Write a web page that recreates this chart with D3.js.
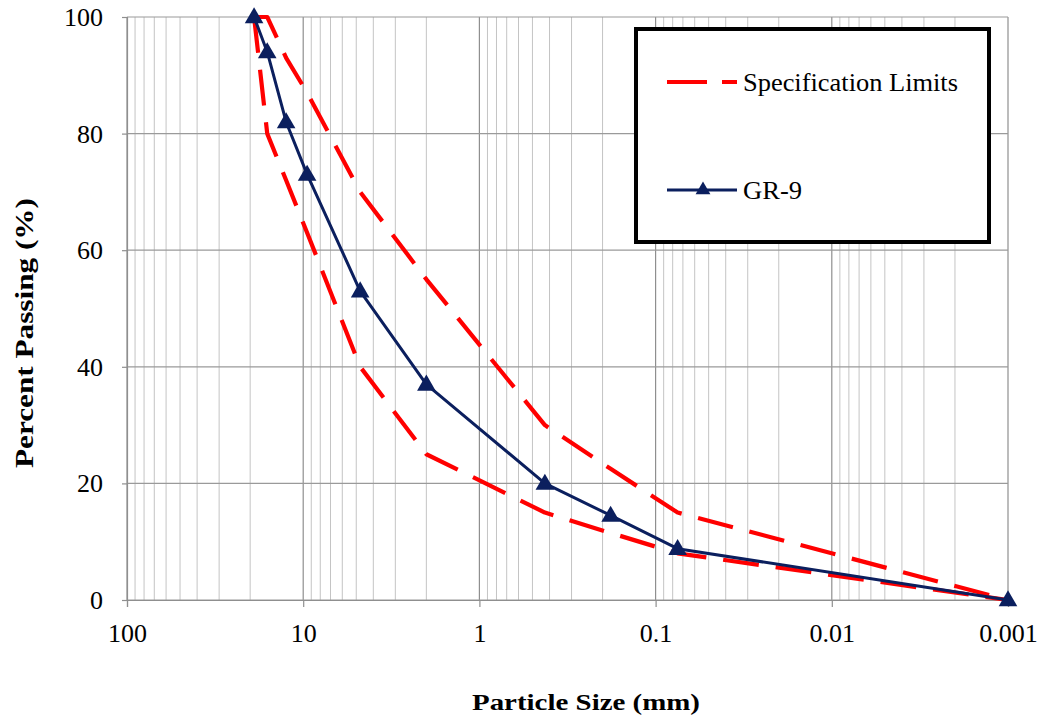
<!DOCTYPE html>
<html>
<head>
<meta charset="utf-8">
<script src="https://d3js.org/d3.v7.min.js"></script>
<style>
  html, body { margin: 0; padding: 0; background: #fff; }
  svg { display: block; }
  text { font-family: "Liberation Serif", "Times New Roman", serif; fill: #000; }
</style>
</head>
<body>
<svg id="chart" width="1041" height="719"></svg>
<script>
// ---- data ----
const sizes      = [19, 16, 12.5, 9.5, 4.75, 2, 0.425, 0.18, 0.075, 0.001];
const gr9        = [100, 94, 82, 73, 53, 37, 20, 14.5, 8.8, 0];
const specUpper  = [100, 100, 93, 87, 70, 55, 30, 22.5, 15, 0];
const specLower  = [100, 80, 72, 63, 40, 25, 15, 11.5, 8, 0];
const xTickLabels = ["100", "10", "1", "0.1", "0.01", "0.001"];
const xTickValues = [100, 10, 1, 0.1, 0.01, 0.001];
const yTickValues = [0, 20, 40, 60, 80, 100];
const legendLabels = ["Specification Limits", "GR-9"];

// ---- layout ----
const svg = d3.select("#chart");
const pLeft = 127, pRight = 1008, pTop = 17, pBottom = 600;

const x = d3.scaleLog().domain([100, 0.001]).range([pLeft, pRight]);
const y = d3.scaleLinear().domain([0, 100]).range([pBottom, pTop]);

const navy = "#0b1f5e";
const red = "#ff0000";

// minor gridlines
const minorVals = [];
for (let k = -3; k <= 1; k++) {
  for (let m = 2; m <= 9; m++) minorVals.push(m * Math.pow(10, k));
}
const grid = svg.append("g");
grid.selectAll("line.minor").data(minorVals).enter().append("line")
  .attr("x1", d => x(d)).attr("x2", d => x(d))
  .attr("y1", pTop).attr("y2", pBottom)
  .attr("stroke", "#c4c4c4").attr("stroke-width", 1);
grid.selectAll("line.major").data(xTickValues).enter().append("line")
  .attr("x1", d => x(d)).attr("x2", d => x(d))
  .attr("y1", pTop).attr("y2", pBottom)
  .attr("stroke", "#8f8f8f").attr("stroke-width", 1.2);
grid.selectAll("line.h").data(yTickValues).enter().append("line")
  .attr("x1", pLeft).attr("x2", pRight)
  .attr("y1", d => y(d)).attr("y2", d => y(d))
  .attr("stroke", "#9a9a9a").attr("stroke-width", 1.2);

// axes
const xAxis = d3.axisBottom(x).tickValues(xTickValues)
  .tickFormat((d, i) => xTickLabels[i]).tickSize(7).tickPadding(16);
const gx = svg.append("g").attr("transform", `translate(0,${pBottom})`).call(xAxis);
gx.select(".domain").attr("stroke", "#8f8f8f").attr("stroke-width", 1.2);
gx.selectAll(".tick line").attr("stroke", "#8f8f8f").attr("stroke-width", 1.2);
gx.selectAll(".tick text").attr("font-size", 26).attr("dy", "0.72em")
  .style("font-family", "'Liberation Serif', serif").attr("fill", "#000");

const yAxis = d3.axisLeft(y).tickValues(yTickValues).tickSize(5).tickPadding(19);
const gy = svg.append("g").attr("transform", `translate(${pLeft},0)`).call(yAxis);
gy.select(".domain").attr("stroke", "#8f8f8f").attr("stroke-width", 1.2);
gy.selectAll(".tick line").attr("stroke", "#8f8f8f").attr("stroke-width", 1.2);
gy.selectAll(".tick text").attr("font-size", 26).attr("dy", "0.33em")
  .style("font-family", "'Liberation Serif', serif").attr("fill", "#000");

// series
const line = d3.line().x(d => x(d[0])).y(d => y(d[1]));
const upperPts = sizes.map((s, i) => [s, specUpper[i]]);
const lowerPts = sizes.map((s, i) => [s, specLower[i]]);
const grPts = sizes.map((s, i) => [s, gr9[i]]);

[lowerPts, upperPts].forEach(pts => {
  svg.append("path").attr("d", line(pts))
    .attr("fill", "none").attr("stroke", red).attr("stroke-width", 4.2)
    .attr("stroke-dasharray", "36,17").attr("stroke-linejoin", "round");
});

svg.append("path").attr("d", line(grPts))
  .attr("fill", "none").attr("stroke", navy).attr("stroke-width", 3)
  .attr("stroke-linejoin", "round");

const tri = d3.symbol().type(d3.symbolTriangle).size(150);
svg.selectAll("path.marker").data(grPts).enter().append("path")
  .attr("transform", d => `translate(${x(d[0])},${y(d[1]) + 1})`)
  .attr("d", tri).attr("fill", navy);

// legend
const lg = svg.append("g");
lg.append("rect").attr("x", 636).attr("y", 29).attr("width", 353).attr("height", 213)
  .attr("fill", "#fff").attr("stroke", "#000").attr("stroke-width", 4);
lg.append("line").attr("x1", 667).attr("x2", 737).attr("y1", 82).attr("y2", 82)
  .attr("stroke", red).attr("stroke-width", 4.2).attr("stroke-dasharray", "40,15");
lg.append("text").attr("x", 743).attr("y", 91).attr("font-size", 26)
  .attr("textLength", 215).attr("lengthAdjust", "spacingAndGlyphs").text(legendLabels[0]);
lg.append("line").attr("x1", 667).attr("x2", 737).attr("y1", 190).attr("y2", 190)
  .attr("stroke", navy).attr("stroke-width", 3);
lg.append("path").attr("transform", "translate(703,190)")
  .attr("d", d3.symbol().type(d3.symbolTriangle).size(95)).attr("fill", navy);
lg.append("text").attr("x", 743).attr("y", 199).attr("font-size", 26)
  .attr("textLength", 59).attr("lengthAdjust", "spacingAndGlyphs").text(legendLabels[1]);

// axis titles
svg.append("text").attr("x", 586).attr("y", 710).attr("text-anchor", "middle")
  .attr("font-size", 23).attr("font-weight", "bold")
  .attr("textLength", 228).attr("lengthAdjust", "spacingAndGlyphs")
  .text("Particle Size (mm)");
svg.append("text").attr("transform", "translate(33,333) rotate(-90)")
  .attr("text-anchor", "middle").attr("font-size", 26).attr("font-weight", "bold")
  .attr("textLength", 270).attr("lengthAdjust", "spacingAndGlyphs")
  .text("Percent Passing (%)");
</script>
</body>
</html>
